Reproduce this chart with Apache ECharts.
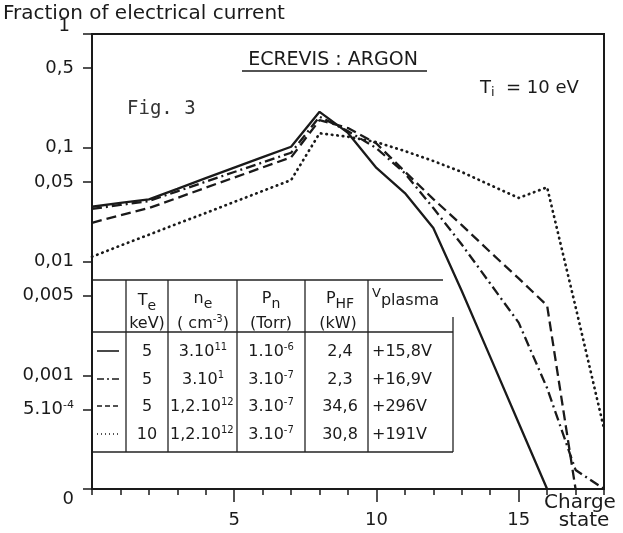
<!DOCTYPE html>
<html>
<head>
<meta charset="utf-8">
<script src="https://cdn.jsdelivr.net/npm/echarts@6/dist/echarts.min.js"></script>
<style>
  html, body { margin: 0; padding: 0; background: #fff; }
  #chart { width: 623px; height: 533px; }
</style>
</head>
<body>
<div id="chart"></div>
<script>
    // charge states 0..18
    var chargeStates = [0, 1, 2, 3, 4, 5, 6, 7, 8, 9, 10, 11, 12, 13, 14, 15, 16, 17, 18];
    // fraction of electrical current (0 = bottom of the broken axis)
    var solidVals   = [0.0303, 0.0327, 0.0352, 0.0435, 0.054, 0.0668, 0.0826, 0.102, 0.207, 0.135, 0.0664, 0.040, 0.0197, 0.0055, 0.00145, 0.00038, 0];
    var dashDotVals = [0.029, 0.0314, 0.034, 0.0414, 0.0503, 0.0612, 0.0743, 0.0904, 0.1875, 0.140, 0.099, 0.0596, 0.0295, 0.0141, 0.0064, 0.0029, 0.00077, 0.000147, 0];
    var dashedVals  = [0.0219, 0.0255, 0.0295, 0.0362, 0.0446, 0.0547, 0.0672, 0.0824, 0.175, 0.149, 0.109, 0.0616, 0.0354, 0.0209, 0.0121, 0.0071, 0.0041, 0];
    var dottedVals  = [0.0110, 0.0138, 0.0172, 0.0215, 0.0267, 0.0334, 0.0417, 0.052, 0.134, 0.125, 0.112, 0.0935, 0.0765, 0.0612, 0.047, 0.0362, 0.0449, 0.0040, 0.00034];

    // y tick values and their printed labels
    var yTicks = [1, 0.5, 0.1, 0.05, 0.01, 0.005, 0.001, 0.0005, 0.0001];
    var yTickLabels = ['{up|1}', '0,5', '0,1', '0,05', '0,01', '0,005', '0,001', '5.10{sup|-4}', '{down|0}'];
    var xLabels = [5, 10, 15];

    // table in the lower left
    var tableRows = [
        ['5', '3.10{sup|11}', '1.10{sup|-6}', '2,4', '+15,8V'],
        ['5', '3.10{sup|1}', '3.10{sup|-7}', '2,3', '+16,9V'],
        ['5', '1,2.10{sup|12}', '3.10{sup|-7}', '34,6', '+296V'],
        ['10', '1,2.10{sup|12}', '3.10{sup|-7}', '30,8', '+191V']
    ];

    var AXIS_ZERO = 0.0001;   // "0" sits where 1e-4 would be
    var FONT = "'DejaVu Sans', 'Liberation Sans', sans-serif";
    var INK = '#1a1a1a';

    function pairs(vals) {
        return vals.map(function(v, i) {
            return [chargeStates[i], v === 0 ? AXIS_ZERO : v];
        });
    }

    var myChart = echarts.init(document.getElementById('chart'));

    var supRich = {
        sup: { fontSize: 11, fontFamily: FONT, verticalAlign: 'top', padding: [0, 0, 8, 0], color: INK },
        up: { fontSize: 18, fontFamily: FONT, padding: [0, 4, 16, 0], color: INK },
        down: { fontSize: 18, fontFamily: FONT, padding: [20, 0, 0, 0], color: INK }
    };

    // table graphics
    var tL = 92, tR = 453, tTop = 280, tHead = 332, tBot = 452;
    var colX = [126, 168, 237, 305, 368];
    var rowY = [352, 380, 407, 435];
    var lineStyle = { stroke: '#222', lineWidth: 1.3 };
    var g = [];
    function hline(x1, x2, y) { g.push({ type: 'line', shape: { x1: x1, y1: y, x2: x2, y2: y }, style: lineStyle }); }
    function vline(x, y1, y2) { g.push({ type: 'line', shape: { x1: x, y1: y1, x2: x, y2: y2 }, style: lineStyle }); }
    function txt(x, y, s, align, size) {
        size = size || 16;
        g.push({
            type: 'text', x: x, y: y,
            style: {
                text: s, font: size + 'px ' + FONT, fill: INK,
                align: align || 'center', verticalAlign: 'middle',
                rich: {
                    sup: { fontSize: 10, fontFamily: FONT, fill: INK, padding: [0, 0, 9, 0] },
                    sub: { fontSize: 14, fontFamily: FONT, fill: INK, padding: [10, 0, 0, 0] },
                    n: { fontSize: size, fontFamily: FONT, fill: INK }
                }
            }
        });
    }
    hline(tL, 443, tTop);
    hline(tL, tR, tHead);
    hline(tL, tR, tBot);
    colX.forEach(function(x) { vline(x, tTop, tBot); });
    vline(tR, 317, tBot);

    txt(147, 301, '{n|T}{sub|e}');
    txt(147, 324, 'keV)');
    txt(203, 299, '{n|n}{sub|e}');
    txt(203, 324, '( cm{sup|-3})');
    txt(271, 299, '{n|P}{sub|n}');
    txt(271, 324, '(Torr)');
    txt(340, 299, '{n|P}{sub|HF}');
    txt(338, 324, '(kW)');
    txt(372, 297, '{v|V}{sub|plasma}', 'left', 15);
    g[g.length - 1].style.rich.v = { fontSize: 13, fontFamily: FONT, fill: INK, padding: [0, 0, 6, 0] };
    g[g.length - 1].style.rich.sub = { fontSize: 16, fontFamily: FONT, fill: INK, padding: [8, 0, 0, 0] };

    tableRows.forEach(function(r, i) {
        var y = rowY[i];
        txt(147, y, r[0]);
        if (i < 2) txt(203, y, r[1]); else txt(170, y, r[1], 'left');
        txt(271, y, r[2]);
        txt(340, y, r[3]);
        txt(372, y, r[4], 'left');
    });

    var sampleDash = [null, [7, 3, 2, 3], [5, 3], [1, 3]];
    rowY.forEach(function(y, i) {
        g.push({
            type: 'line', shape: { x1: 97, y1: y - 1, x2: 119, y2: y - 1 },
            style: { stroke: INK, lineWidth: i === 3 ? 1.5 : 1.6, lineDash: sampleDash[i] }
        });
    });

    // annotations
    g.push({ type: 'text', x: 3, y: 14, style: { text: 'Fraction of electrical current', font: '20px ' + FONT, fill: INK, align: 'left', verticalAlign: 'middle' } });
    g.push({ type: 'text', x: 333, y: 60, style: { text: 'ECREVIS : ARGON', font: '19px ' + FONT, fill: INK, align: 'center', verticalAlign: 'middle' } });
    g.push({ type: 'line', shape: { x1: 242, y1: 71, x2: 427, y2: 71 }, style: { stroke: INK, lineWidth: 1.5 } });
    g.push({
        type: 'text', x: 480, y: 88,
        style: {
            text: '{n|T}{sub|i}{n|  = 10 eV}', font: '18px ' + FONT, fill: INK, align: 'left', verticalAlign: 'middle',
            rich: { n: { fontSize: 18, fontFamily: FONT, fill: INK }, sub: { fontSize: 13, fontFamily: FONT, fill: INK, padding: [10, 0, 0, 0] } }
        }
    });
    g.push({ type: 'text', x: 127, y: 109, style: { text: 'Fig. 3', font: '19px \'DejaVu Sans Mono\', monospace', fill: '#333', align: 'left', verticalAlign: 'middle' } });
    g.push({ type: 'text', x: 580, y: 503, style: { text: 'Charge', font: '20px ' + FONT, fill: INK, align: 'center', verticalAlign: 'middle' } });
    g.push({ type: 'text', x: 584, y: 521, style: { text: 'state', font: '20px ' + FONT, fill: INK, align: 'center', verticalAlign: 'middle' } });

    function makeSeries(vals, type, width, cap) {
        return {
            type: 'line',
            data: pairs(vals),
            symbol: 'none',
            silent: true,
            lineStyle: { color: INK, width: width, type: type, cap: cap || 'butt' }
        };
    }

    var option = {
        animation: false,
        backgroundColor: '#fff',
        grid: {
            left: 92, right: 19, top: 34, bottom: 44,
            show: true, borderColor: INK, borderWidth: 2
        },
        xAxis: [{
            type: 'value', min: 0, max: 18, interval: 1,
            axisLine: { lineStyle: { color: INK, width: 2 } },
            axisTick: { show: true, length: 6, lineStyle: { color: INK, width: 1.5 } },
            axisLabel: {
                margin: 22, fontSize: 18, fontFamily: FONT, color: INK,
                formatter: function(v) { return xLabels.indexOf(v) >= 0 ? String(v) : ''; }
            },
            splitLine: { show: false }
        }, {
            type: 'value', min: 0, max: 18, position: 'bottom',
            axisLine: { show: false },
            axisTick: { show: true, length: 13, customValues: xLabels, lineStyle: { color: INK, width: 1.5 } },
            axisLabel: { show: false },
            splitLine: { show: false }
        }],
        yAxis: {
            type: 'log', logBase: 10, min: AXIS_ZERO, max: 1,
            axisLine: { show: true, lineStyle: { color: INK, width: 2 } },
            axisTick: { show: true, length: 9, customValues: yTicks, lineStyle: { color: INK, width: 1.5 } },
            axisLabel: {
                margin: 18, fontSize: 18, fontFamily: FONT, color: INK,
                customValues: yTicks,
                formatter: function(v) {
                    var best = 0;
                    yTicks.forEach(function(t, i) {
                        if (Math.abs(Math.log10(t) - Math.log10(v)) < Math.abs(Math.log10(yTicks[best]) - Math.log10(v))) best = i;
                    });
                    return yTickLabels[best];
                },
                rich: supRich
            },
            splitLine: { show: false },
            minorTick: { show: false }
        },
        graphic: g,
        series: [
            makeSeries(solidVals, 'solid', 2.3),
            makeSeries(dashDotVals, [10, 4, 2, 4], 2.3),
            makeSeries(dashedVals, [10, 5], 2.3),
            makeSeries(dottedVals, [0.5, 5], 2.7, 'round')
        ]
    };

    myChart.setOption(option);
    window.addEventListener('resize', function() {
        myChart.resize();
    });
</script>
</body>
</html>
